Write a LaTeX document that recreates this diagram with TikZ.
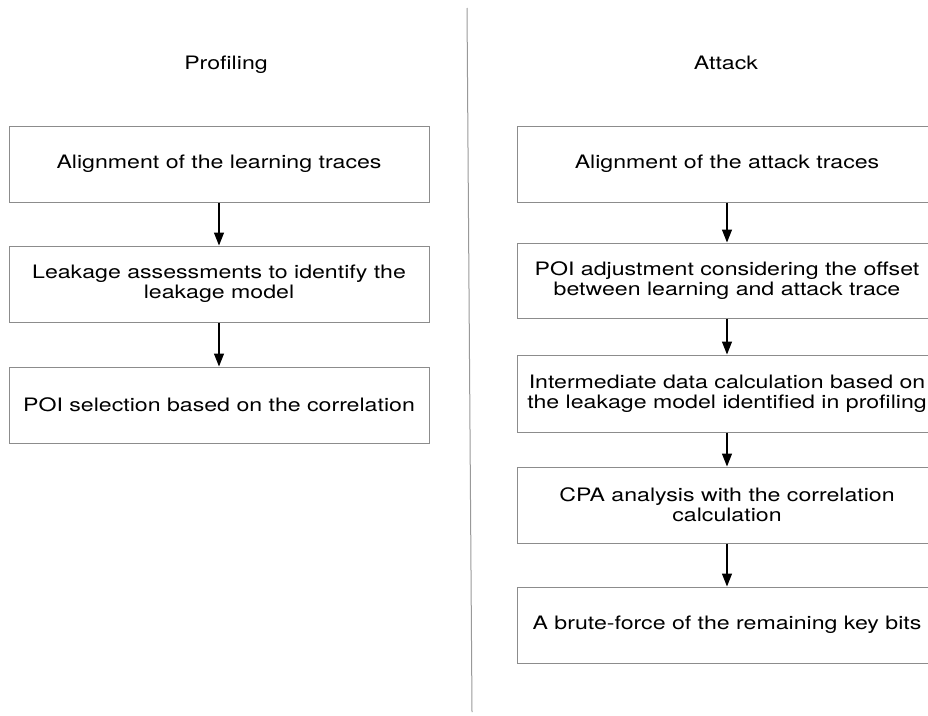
\documentclass[tikz,border=0pt]{standalone}
\usepackage{fontspec}
\setmainfont{TeX Gyre Heros}[FakeStretch=1.25]
\usepackage{tikz}
\usetikzlibrary{arrows.meta}

\begin{document}
\begin{tikzpicture}[x=1pt,y=-1pt,
  box/.style={draw=black!45,line width=1pt,minimum width=420pt,minimum height=76pt,inner sep=0pt,align=center,font=\fontsize{18.5}{20}\selectfont},
  heading/.style={anchor=base,font=\fontsize{18.5}{20}\selectfont},
  flow/.style={-{Triangle[width=10pt,length=13pt]},line width=1.2pt}]
  \useasboundingbox (0,0) rectangle (928,715);
  \clip (0,0) rectangle (928,715);

  % Profiling
  \node[heading] (prof) at (226,69) {Profiling};
  \node[box] (p1) at (219,164) {Alignment of the learning traces};
  \node[box] (p2) at (219,284) {Leakage assessments to identify the\\leakage model};
  \node[box] (p3) at (219,405) {POI selection based on the correlation};

  \draw[flow] (p1) -- (p2);
  \draw[flow] (p2) -- (p3);

  % Attack
  \node[heading] (att) at (726,69) {Attack};
  \node[box] (a1) at (727,164) {Alignment of the attack traces};
  \node[box,minimum height=75pt] (a2) at (727,280.5) {POI adjustment considering the offset\\between learning and attack trace};
  \node[box,minimum height=77pt] (a3) at (727,393.5) {Intermediate data calculation based on\\the leakage model identified in profiling};
  \node[box] (a4) at (727,505) {CPA analysis with the correlation\\calculation};
  \node[box] (a5) at (727,625) {A brute-force of the remaining key bits};

  \draw[flow] (a1) -- (a2);
  \draw[flow] (a2) -- (a3);
  \draw[flow] (a3) -- (a4);
  \draw[flow] (a4) -- (a5);

  % divider
  \coordinate (sep top) at (467,8);
  \coordinate (sep bot) at (472,712);
  \draw[black!40,line width=1pt] (sep top) -- (sep bot);
\end{tikzpicture}
\end{document}
